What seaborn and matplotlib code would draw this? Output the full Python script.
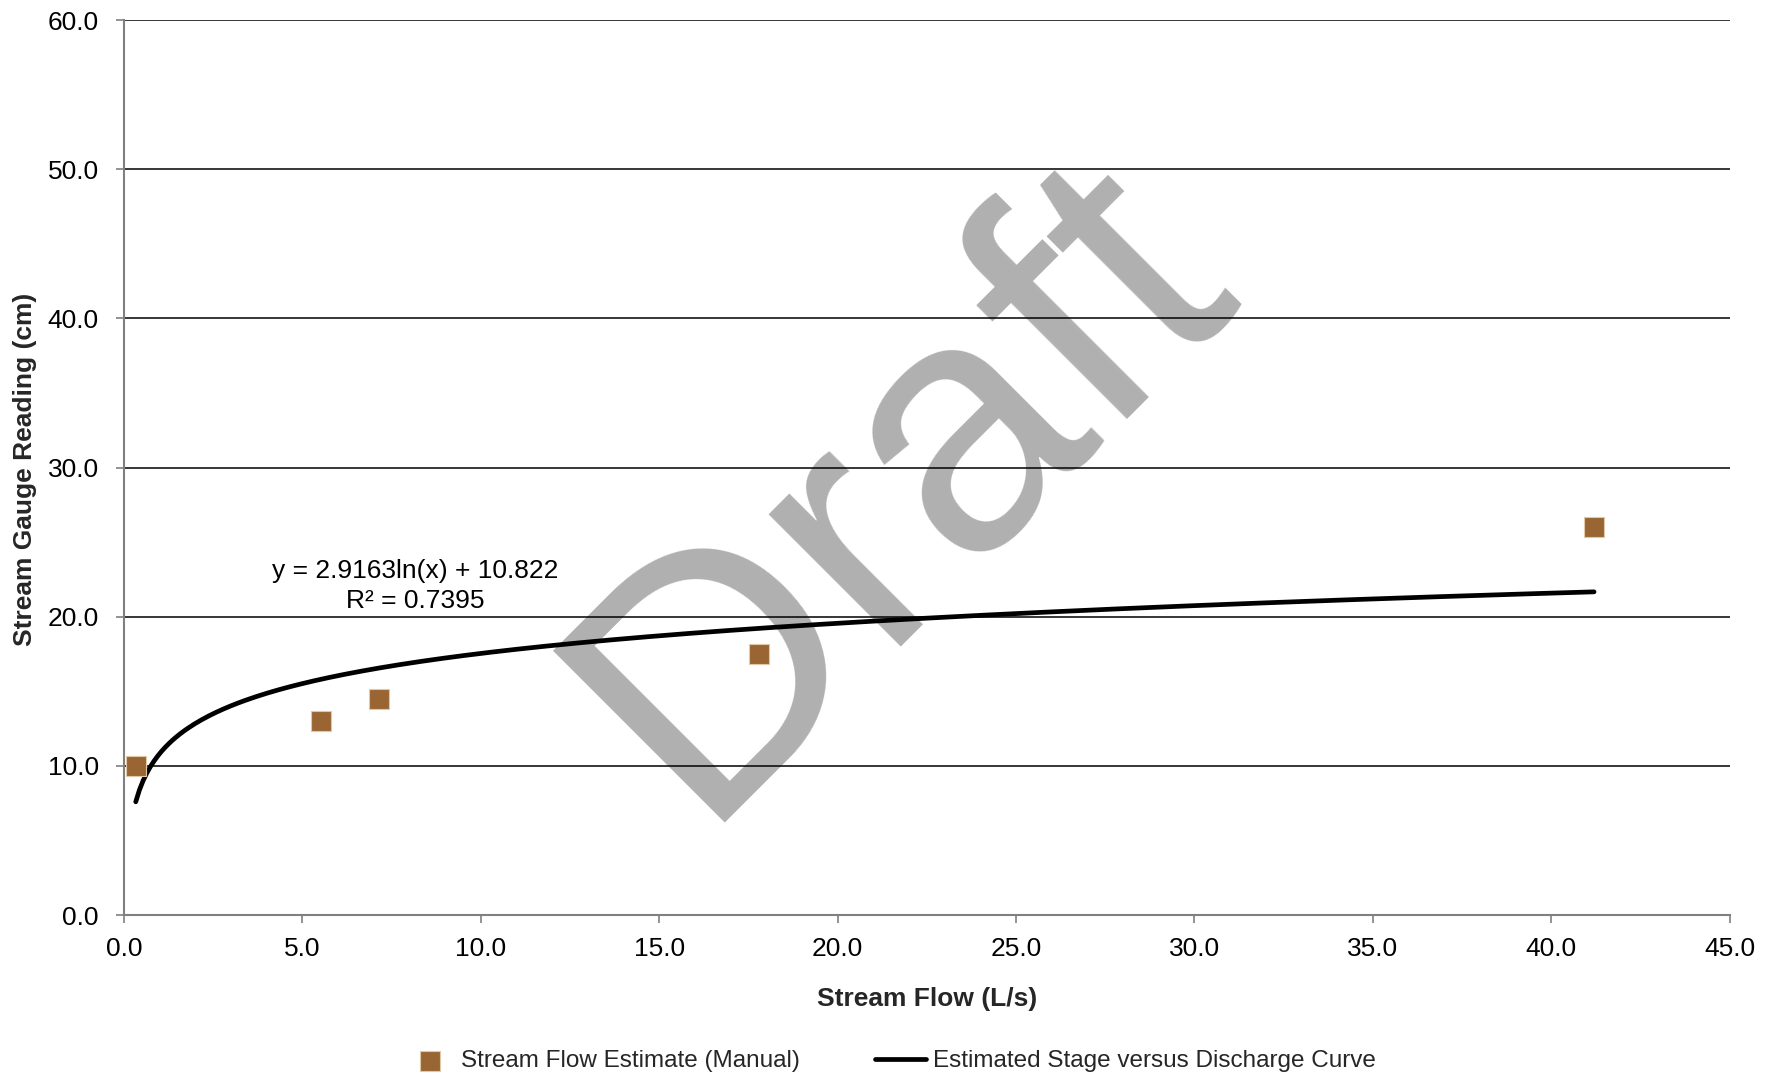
import matplotlib.pyplot as plt
import numpy as np
import seaborn as sns
from matplotlib.ticker import FormatStrFormatter

# Manual stream flow estimates
flow_ls = [0.33, 5.52, 7.14, 17.8, 41.2]
gauge_cm = [10.0, 13.0, 14.5, 17.5, 26.0]

# Logarithmic trend line reported on the chart
fit_slope = 2.9163
fit_intercept = 10.822
fit_r2 = 0.7395

x_ticks = [0, 5, 10, 15, 20, 25, 30, 35, 40, 45]
y_ticks = [0, 10, 20, 30, 40, 50, 60]

sns.set_theme(style="white")
plt.rcParams["font.family"] = ["Liberation Sans", "DejaVu Sans"]

fig = plt.figure(figsize=(17.76, 10.76), dpi=100)
ax = fig.add_axes([0.0698, 0.1496, 0.9041, 0.8318])

# trend curve spans the range of the measurements
curve_x = np.linspace(min(flow_ls), max(flow_ls), 400)
curve_y = fit_slope * np.log(curve_x) + fit_intercept

sns.scatterplot(x=flow_ls, y=gauge_cm, marker="s", s=190, color="#996633",
                edgecolor="#e2c9a6", linewidth=0.8, zorder=3,
                label="Stream Flow Estimate (Manual)", ax=ax)
sns.lineplot(x=curve_x, y=curve_y, color="black", lw=3.4, zorder=2,
             solid_capstyle="round", sort=False,
             label="Estimated Stage versus Discharge Curve", ax=ax)

ax.text(8.16, 22.05, f"y = {fit_slope}ln(x) + {fit_intercept}\nR² = {fit_r2}",
        ha="center", va="center", fontsize=19, color="black", zorder=4,
        linespacing=1.3)

# watermark sits behind grid and data
ax.text(0.5077, 0.547, "Draft", transform=fig.transFigure, rotation=45,
        ha="center", va="center", fontsize=254, color="#b0b0b0",
        zorder=0.1, clip_on=False)

ax.set_xlim(0, 45)
ax.set_ylim(0, 60)
ax.set_xticks(x_ticks)
ax.set_yticks(y_ticks)
ax.xaxis.set_major_formatter(FormatStrFormatter("%.1f"))
ax.yaxis.set_major_formatter(FormatStrFormatter("%.1f"))
ax.tick_params(bottom=True, left=True, direction="out", length=6, width=1.2,
               color="#808080", labelsize=19, labelcolor="black")
ax.tick_params(axis="x", pad=10)
ax.tick_params(axis="y", pad=12)

ax.set_axisbelow(True)
ax.yaxis.grid(True, color="black", lw=1.1)
ax.xaxis.grid(False)
for side in ["top", "right"]:
    ax.spines[side].set_visible(False)
for side in ["left", "bottom"]:
    ax.spines[side].set_color("#808080")
    ax.spines[side].set_linewidth(1.5)

ax.set_xlabel("Stream Flow (L/s)", fontsize=19, fontweight="bold")
ax.set_ylabel("Stream Gauge Reading (cm)", fontsize=19, fontweight="bold")
ax.xaxis.set_label_coords(0.5, -0.0804)
ax.yaxis.set_label_coords(-0.054, 0.498)

handles, labels = ax.get_legend_handles_labels()
ax.get_legend().remove()
fig.legend(handles, labels, loc="center", bbox_to_anchor=(0.501, 0.0135),
           ncol=2, frameon=False, fontsize=17.5, handlelength=2.1,
           handletextpad=0.25, columnspacing=3.1)

fig.savefig("out.png", dpi=100)
